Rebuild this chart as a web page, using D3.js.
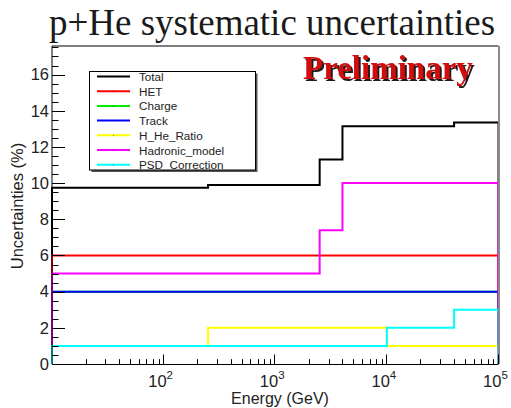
<!DOCTYPE html>
<html>
<head>
<meta charset="utf-8">
<script src="https://cdn.jsdelivr.net/npm/d3@7"></script>
<style>
  html, body { margin: 0; padding: 0; background: #fff; }
  svg { display: block; }
</style>
</head>
<body>
<svg id="chart" width="511" height="408"></svg>
<script>
// Energy bin edges (GeV) shared by every histogram
const binEdges = [10, 250, 2500, 4000, 10000, 40000, 100000];

// Systematic uncertainty per bin (%)
const totalVals    = [9.75, 9.9, 11.3, 13.15, 13.15, 13.35];
const hetVals      = [6, 6, 6, 6, 6, 6];
const chargeVals   = [4, 4, 4, 4, 4, 4];
const trackVals    = [4, 4, 4, 4, 4, 4];
const hHeRatioVals = [1, 2, 2, 2, 1, 1];
const hadronicVals = [5, 5, 7.4, 10, 10, 10];
const psdVals      = [1, 1, 1, 1, 2, 3];

const seriesNames  = ["Total", "HET", "Charge", "Track", "H_He_Ratio", "Hadronic_model", "PSD_Correction"];
const seriesColors = ["#000000", "#ff0000", "#00ee00", "#0000ff", "#ffff00", "#ff00ff", "#00ffff"];
const seriesValues = [totalVals, hetVals, chargeVals, trackVals, hHeRatioVals, hadronicVals, psdVals];

const yTicks = [0, 2, 4, 6, 8, 10, 12, 14, 16];
const xDecades = [100, 1000, 10000, 100000];
const xDecadeExp = ["2", "3", "4", "5"];

const m = { left: 52, right: 498.5, top: 46, bottom: 364 };

const svg = d3.select("#chart");
const x = d3.scaleLog().domain([10, 100000]).range([m.left, m.right]);
const y = d3.scaleLinear().domain([0, 17.58]).range([m.bottom, m.top]);

// Drop shadow for the stamp text
const defs = svg.append("defs");
const f = defs.append("filter").attr("id", "stampShadow")
  .attr("x", "-5%").attr("y", "-10%").attr("width", "115%").attr("height", "130%");
f.append("feOffset").attr("in", "SourceAlpha").attr("dx", 1.6).attr("dy", 1.6).attr("result", "off");
f.append("feFlood").attr("flood-color", "#1a1a1a").attr("result", "col");
f.append("feComposite").attr("in", "col").attr("in2", "off").attr("operator", "in").attr("result", "shadow");
const fm = f.append("feMerge");
fm.append("feMergeNode").attr("in", "shadow");
fm.append("feMergeNode").attr("in", "SourceGraphic");

// Histogram outlines, drawn as steps from zero like ROOT's "hist" option
const line = d3.line().x(d => x(d[0])).y(d => y(d[1]));
seriesValues.forEach((vals, i) => {
  const pts = [[binEdges[0], 0]];
  vals.forEach((v, j) => {
    pts.push([binEdges[j], v]);
    pts.push([binEdges[j + 1], v]);
  });
  pts.push([binEdges[binEdges.length - 1], 0]);
  svg.append("path")
    .attr("d", line(pts))
    .attr("fill", "none")
    .attr("stroke", seriesColors[i])
    .attr("stroke-width", 2);
});

// Frame: top and right edges
svg.append("line").attr("x1", m.left).attr("x2", m.right).attr("y1", m.top).attr("y2", m.top)
  .attr("stroke", "#000").attr("stroke-width", 1);
svg.append("line").attr("x1", m.right + 0.5).attr("x2", m.right + 0.5).attr("y1", m.top).attr("y2", m.bottom)
  .attr("stroke", "#8a8a8a").attr("stroke-width", 2);

// Y axis with ticks pointing inward
const yMinor = d3.range(0, 17.6, 0.5);
const yAxis = svg.append("g");
yAxis.append("line").attr("x1", m.left).attr("x2", m.left).attr("y1", m.top).attr("y2", m.bottom)
  .attr("stroke", "#000").attr("stroke-width", 1);
yAxis.selectAll("line.minor").data(yMinor).enter().append("line")
  .attr("class", "minor")
  .attr("x1", m.left).attr("x2", d => m.left + (d % 2 === 0 ? 13 : 6.5))
  .attr("y1", d => Math.round(y(d)) + 0.5).attr("y2", d => Math.round(y(d)) + 0.5)
  .attr("stroke", "#000").attr("stroke-width", 1);
yAxis.selectAll("text").data(yTicks).enter().append("text")
  .attr("x", 49).attr("y", d => y(d) + 5.8)
  .attr("text-anchor", "end")
  .attr("font-family", "Liberation Sans, Arial, sans-serif")
  .attr("font-size", 16.5)
  .attr("fill", "#222")
  .text(d => d);

// X axis (log) with decade and sub-decade ticks
const xAxis = svg.append("g");
xAxis.append("line").attr("x1", m.left).attr("x2", m.right).attr("y1", m.bottom + 0.5).attr("y2", m.bottom + 0.5)
  .attr("stroke", "#000").attr("stroke-width", 1);
const xMinor = [];
[10, 100, 1000, 10000].forEach(dec => {
  for (let k = 2; k <= 9; k++) xMinor.push(dec * k);
});
xAxis.selectAll("line.minor").data(xMinor).enter().append("line")
  .attr("x1", d => Math.round(x(d)) + 0.5).attr("x2", d => Math.round(x(d)) + 0.5)
  .attr("y1", m.bottom).attr("y2", m.bottom - 4.8)
  .attr("stroke", "#000").attr("stroke-width", 1);
xAxis.selectAll("line.major").data(xDecades).enter().append("line")
  .attr("x1", d => Math.round(x(d)) - 0.5).attr("x2", d => Math.round(x(d)) - 0.5)
  .attr("y1", m.bottom).attr("y2", m.bottom - 9.5)
  .attr("stroke", "#000").attr("stroke-width", 1);
const xLab = xAxis.selectAll("text").data(xDecades).enter().append("text")
  .attr("x", d => x(d) - 3).attr("y", 387)
  .attr("text-anchor", "middle")
  .attr("font-family", "Liberation Sans, Arial, sans-serif")
  .attr("font-size", 16.5)
  .attr("fill", "#222");
xLab.append("tspan").text("10");
xLab.append("tspan").attr("dy", -8).attr("font-size", 11.5).text((d, i) => xDecadeExp[i]);

// Axis titles
svg.append("text")
  .attr("x", 280).attr("y", 404)
  .attr("text-anchor", "middle")
  .attr("font-family", "Liberation Sans, Arial, sans-serif")
  .attr("font-size", 16)
  .attr("fill", "#222")
  .text("Energy (GeV)");
svg.append("text")
  .attr("transform", "translate(23,206) rotate(-90)")
  .attr("text-anchor", "middle")
  .attr("font-family", "Liberation Sans, Arial, sans-serif")
  .attr("font-size", 16.5)
  .attr("fill", "#222")
  .text("Uncertainties (%)");

// Title
svg.append("text")
  .attr("x", 272).attr("y", 35)
  .attr("text-anchor", "middle")
  .attr("font-family", "Liberation Serif, Times New Roman, serif")
  .attr("font-size", 37)
  .attr("fill", "#1a1a1a")
  .text("p+He systematic uncertainties");

// "Preliminary" stamp
svg.append("text")
  .attr("x", 303).attr("y", 79)
  .attr("font-family", "Liberation Serif, Times New Roman, serif")
  .attr("font-weight", "bold").attr("font-size", 33)
  .attr("fill", "#d10a0a")
  .attr("filter", "url(#stampShadow)")
  .text("Preliminary");

// Legend box with shadow
const lg = { x: 89.5, y: 71.5, w: 166, h: 98.5 };
svg.append("rect").attr("x", lg.x + 2).attr("y", lg.y + 2).attr("width", lg.w).attr("height", lg.h)
  .attr("fill", "#555");
svg.append("rect").attr("x", lg.x).attr("y", lg.y).attr("width", lg.w).attr("height", lg.h)
  .attr("fill", "#fff").attr("stroke", "#000").attr("stroke-width", 1);
const rows = svg.append("g").selectAll("g").data(seriesNames).enter().append("g")
  .attr("transform", (d, i) => `translate(0,${76.5 + i * 14.7})`);
rows.append("line").attr("x1", 97).attr("x2", 130).attr("y1", 0).attr("y2", 0)
  .attr("stroke", (d, i) => seriesColors[i]).attr("stroke-width", 2);
rows.append("rect").attr("x", 113).attr("y", -0.5).attr("width", 1).attr("height", 1)
  .attr("fill", "#000").attr("opacity", 0.5);
rows.append("text").attr("x", 139).attr("y", 4.5)
  .attr("font-family", "Liberation Sans, Arial, sans-serif")
  .attr("font-size", 11.7)
  .attr("fill", "#222")
  .text(d => d);
</script>
</body>
</html>
